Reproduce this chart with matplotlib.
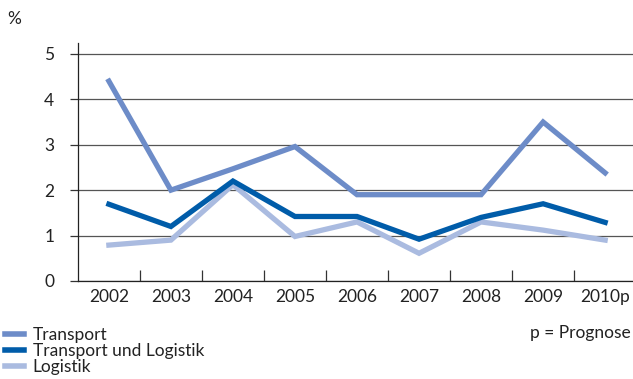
import matplotlib.pyplot as plt
import numpy as np
from matplotlib.lines import Line2D

plt.rcParams['font.family'] = ['Lato', 'DejaVu Sans']

years = ['2002', '2003', '2004', '2005', '2006', '2007', '2008', '2009', '2010p']
transport = [4.4, 2.0, 2.47, 2.96, 1.9, 1.9, 1.9, 3.5, 2.38]
trans_log = [1.69, 1.2, 2.2, 1.42, 1.42, 0.92, 1.4, 1.7, 1.29]
logistik = [0.79, 0.9, 2.12, 0.98, 1.3, 0.61, 1.3, 1.12, 0.9]

names = ['Transport', 'Transport und Logistik', 'Logistik']
colors = ['#6d8cc8', '#005ca9', '#aabbe0']
fs = 12.5

fig = plt.figure(figsize=(6.33, 3.79), dpi=100)
ax = fig.add_axes([0.123, 0.2586, 0.882, 0.628])

x = np.arange(len(years))
# light first so the darker lines sit on top
ax.plot(x, logistik, color=colors[2], lw=3.8, solid_joinstyle='miter', zorder=3)
ax.plot(x, transport, color=colors[0], lw=3.8, solid_joinstyle='miter', zorder=4)
ax.plot(x, trans_log, color=colors[1], lw=3.8, solid_joinstyle='miter', zorder=5)

ax.set_xlim(-0.5, 8.5)
ax.set_ylim(0, 5.24)
ax.set_yticks(range(6))
ax.set_yticklabels([str(i) for i in range(6)])
ax.yaxis.grid(True, color='#555555', lw=0.9)
ax.set_axisbelow(True)

ax.set_xticks(x)
ax.set_xticklabels(years)
ax.set_xticks(np.arange(0.5, 8.5, 1), minor=True)
ax.tick_params(axis='x', which='major', length=0, pad=6, labelsize=fs, colors='#222222')
ax.tick_params(axis='x', which='minor', length=8, direction='in', width=0.9, color='#333333')
ax.tick_params(axis='y', length=6, width=0.9, pad=11, labelsize=fs, colors='#222222')
ax.tick_params(axis='y', color='#333333')

for s in ['top', 'right']:
    ax.spines[s].set_visible(False)
for s in ['left', 'bottom']:
    ax.spines[s].set_color('#222222')
    ax.spines[s].set_linewidth(0.9)

fig.text(0.011, 0.95, '%', fontsize=fs, color='#222222', va='center')

handles = [Line2D([0], [0], color=c, lw=4) for c in colors]
fig.legend(handles, names, loc='upper left', bbox_to_anchor=(-0.003, 0.156),
           frameon=False, fontsize=fs, handlelength=1.1, handletextpad=0.5,
           labelspacing=0.0, borderaxespad=0, labelcolor='#222222')
fig.text(0.997, 0.121, 'p = Prognose', ha='right', va='center', fontsize=fs, color='#222222')

fig.savefig('out.png', dpi=100)
